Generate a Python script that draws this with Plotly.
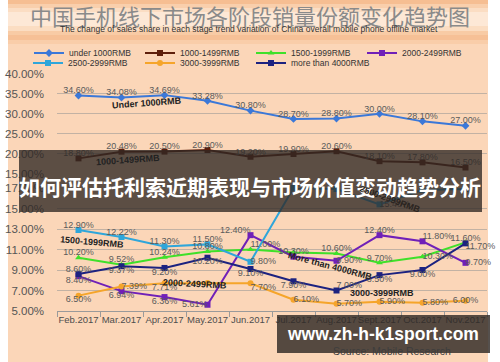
import plotly.graph_objects as go

# ---------------- data ----------------
months = ["Feb.2017", "Mar.2017", "Apr.2017", "May.2017", "Jun.2017",
          "Jul.2017", "Aug.2017", "Sept.2017", "Oct.2017", "Nov.2017"]
under_1000 = [34.60, 34.08, 34.69, 33.28, 30.80, 28.70, 28.80, 30.00, 28.10, 27.00]
r1000_1499 = [18.80, 20.48, 20.50, 20.90, 19.20, 19.90, 20.60, 18.10, 17.80, 16.50]
r1500_1999 = [10.20, 9.52, 10.24, 10.80, 11.00, 10.70, 10.60, 9.70, 10.30, 11.70]
r2000_2499 = [8.40, 6.94, 6.36, 5.61, 12.40, 10.30, 9.90, 12.40, 11.80, 9.70]
r2500_2999 = [12.90, 12.22, 11.30, 11.50, 9.80, 17.00, 16.90, 15.40, 16.80, 16.90]
r3000_3999 = [6.50, 7.39, 7.71, 7.72, 7.70, 6.10, 5.70, 5.90, 5.80, 6.00]
over_4000 = [8.60, 9.37, 9.20, 10.20, 9.10, 7.90, 7.00, 8.50, 9.00, 11.60]

upper_ticks = [15, 20, 25, 30, 35, 40]
lower_ticks = [5, 7, 9, 11, 13, 15, 17]

title_cn = "中国手机线下市场各阶段销量份额变化趋势图"
subtitle_en = "The change of sales share in each stage trend variation of China overall mobile phone offline market"
banner_text = "如何评估托利索近期表现与市场价值变动趋势分析"
watermark = "www.zh-h-k1sport.com"
source_text = "Source: Mobile Research"

# ---------------- geometry helpers ----------------
W, H = 500, 362
L, R, T, B = 57, 13, 74, 51
PW, PH = W - L - R, H - T - B


def px(x):
    return (x - L) / PW


def py(y):
    return (H - B - y) / PH


FONT = "Liberation Sans"

# name, values, colour, symbol, axis, legend pos (px), label positions, hidden labels
series = [
    ("under 1000RMB", under_1000, "#3B78D8", "diamond", "y2", (29, 53),
     ["top center"] * 10, []),
    ("1000-1499RMB", r1000_1499, "#5E1F0B", "square", "y2", (140, 53),
     ["top center"] * 10, []),
    ("1500-1999RMB", r1500_1999, "#3FE02A", "triangle-up", "y", (251, 53),
     ["top center", "top center", "top center", "top center", "top right",
      "top center", "top center", "top center", "middle right", "bottom right"], [5]),
    ("2000-2499RMB", r2000_2499, "#7020B8", "square", "y", (362, 53),
     ["bottom center", "bottom center", "bottom center", "middle left", "top left",
      "top center", "middle right", "top center", "top right", "middle right"], []),
    ("2500-2999RMB", r2500_2999, "#2FA6DA", "square", "y", (28, 63),
     ["top center", "top center", "top center", "top center", "middle right",
      "top center", "top center", "middle right", "top center", "top center"], [5, 6, 8, 9]),
    ("3000-3999RMB", r3000_3999, "#F5A52A", "circle", "y", (140, 63),
     ["bottom center", "middle right", "bottom center", "top center", "bottom right",
      "middle right", "middle right", "middle right", "middle right", "middle center"], [3]),
    ("more than 4000RMB", over_4000, "#1C2280", "square", "y", (251, 63),
     ["top center", "bottom center", "bottom center", "bottom center", "bottom center",
      "bottom center", "top right", "bottom center", "bottom center", "top center"], []),
]

fig = go.Figure()
legend_layouts = {}

for i, (name, vals, col, sym, ax, lp, pos, hidden) in enumerate(series):
    key = "legend" if i == 0 else f"legend{i + 1}"
    fig.add_trace(go.Scatter(
        x=months, y=vals, name=name, mode="lines+markers", yaxis=ax,
        line=dict(color=col, width=2), marker=dict(symbol=sym, size=6, color=col),
        legend=key, cliponaxis=False, hoverinfo="skip"))
    legend_layouts[key] = dict(
        orientation="h", itemwidth=30, font=dict(family=FONT, size=8.5, color="#333333"),
        bgcolor="rgba(0,0,0,0)", xref="container", yref="container",
        xanchor="left", yanchor="middle", x=lp[0] / W, y=1 - lp[1] / H)

for name, vals, col, sym, ax, lp, pos, hidden in series:
    labels = ["" if i in hidden else f"{v:.2f}%" for i, v in enumerate(vals)]
    fig.add_trace(go.Scatter(
        x=months, y=vals, mode="text", yaxis=ax, text=labels, textposition=pos,
        textfont=dict(family=FONT, size=9, color="#5a5a5a"),
        showlegend=False, cliponaxis=False, hoverinfo="skip"))

# ---------------- background shapes ----------------
shapes = [
    dict(type="rect", xref="paper", yref="paper", x0=px(8), x1=px(488), y0=py(362), y1=py(0),
         fillcolor="#FBD6B8", line=dict(width=0), layer="below"),
]
bands = [(0, 4, "#F6BE92"), (4, 8, "#F9CFAC"), (8, 12, "#FBDDC3"), (12, 26, "#FDE8D6"),
         (26, 31, "#FBDDC2"), (31, 35, "#F8CBA5"), (35, 40, "#F6C096"), (40, 44, "#F9CDA9")]
for y0, y1, c in bands:
    shapes.append(dict(type="rect", xref="paper", yref="paper", x0=px(8), x1=px(488),
                       y0=py(y1), y1=py(y0), fillcolor=c, line=dict(width=0), layer="below"))
# overlays
shapes.append(dict(type="rect", xref="paper", yref="paper", x0=px(19), x1=px(482),
                   y0=py(212), y1=py(150), fillcolor="rgba(48,40,36,0.78)",
                   line=dict(width=0), layer="above"))
shapes.append(dict(type="rect", xref="paper", yref="paper", x0=px(277), x1=px(490),
                   y0=py(353), y1=py(315), fillcolor="rgba(48,42,38,0.82)",
                   line=dict(width=0), layer="above"))


def pann(text, x, y, size, color, family=FONT):
    return dict(text=text, x=px(x), y=py(y), xref="paper", yref="paper", showarrow=False,
                xanchor="center", yanchor="middle", font=dict(family=family, size=size, color=color))


# ---------------- annotations ----------------
ann = [
    pann(title_cn, 250, 15, 22, "#8a8a8a", "Noto Sans CJK SC"),
    pann(subtitle_en, 249, 29, 8.5, "#333333"),
    pann("<b>" + banner_text + "</b>", 250, 186, 21, "white", "Noto Sans CJK SC"),
    pann(source_text, 392, 351, 10.5, "#3d3d3d"),
    pann("<b>" + watermark + "</b>", 383, 334, 17.5, "white"),
]
names = [
    ("Under 1000RMB", 1.59, 32.7, "y2", -4, "#222222"),
    ("1000-1499RMB", 1.15, 18.4, "y2", -4, "#222222"),
    ("1500-1999RMB", 0.31, 11.7, "y", 5, "#222222"),
    ("2000-2499RMB", 2.71, 7.66, "y", 3, "#222222"),
    ("More than 4000RMB", 5.85, 9.43, "y", 15, "#222222"),
    ("3000-3999RMB", 7.06, 6.77, "y", 0, "#222222"),
    ("2500-2999RMB", 7.24, 15.9, "y", 20, "#2a2420"),
]
for t, xi, yv, ax, ang, c in names:
    ann.append(dict(text="<b>" + t + "</b>", x=xi, y=yv, xref="x", yref=ax, showarrow=False,
                    xanchor="center", yanchor="middle",
                    textangle=ang, font=dict(family=FONT, size=9, color=c)))

grid = "#C2B2A4"
fig.update_layout(
    width=W, height=H, margin=dict(l=L, r=R, t=T, b=B, autoexpand=False),
    paper_bgcolor="white", plot_bgcolor="rgba(0,0,0,0)",
    shapes=shapes, annotations=ann,
    xaxis=dict(type="category", range=[-0.5, 9.5], showgrid=False, showline=True,
               linecolor="#9a9a9a", ticks="outside", tickson="boundaries", ticklen=5,
               tickcolor="#9a9a9a", tickangle=0,
               tickfont=dict(family=FONT, size=9.5, color="#4d4d4d"),
               anchor="y", fixedrange=True),
    yaxis=dict(domain=[0, py(188)], range=[5, 17], tickvals=lower_ticks,
               ticktext=[f"{v:.2f}%" for v in lower_ticks], showgrid=True, gridcolor=grid,
               gridwidth=1, zeroline=False, showline=False, ticks="", ticklabelstandoff=12,
               tickfont=dict(family=FONT, size=11.5, color="#555555"), anchor="x"),
    yaxis2=dict(domain=[py(173.5), 1], range=[15, 40], tickvals=upper_ticks,
                ticktext=[f"{v:.2f}%" for v in upper_ticks], showgrid=True, gridcolor=grid,
                gridwidth=1, zeroline=False, showline=False, ticks="", ticklabelstandoff=12,
                tickfont=dict(family=FONT, size=11.5, color="#555555"), anchor="x"),
    hovermode=False,
    **legend_layouts,
)

fig.write_html("out.html")
